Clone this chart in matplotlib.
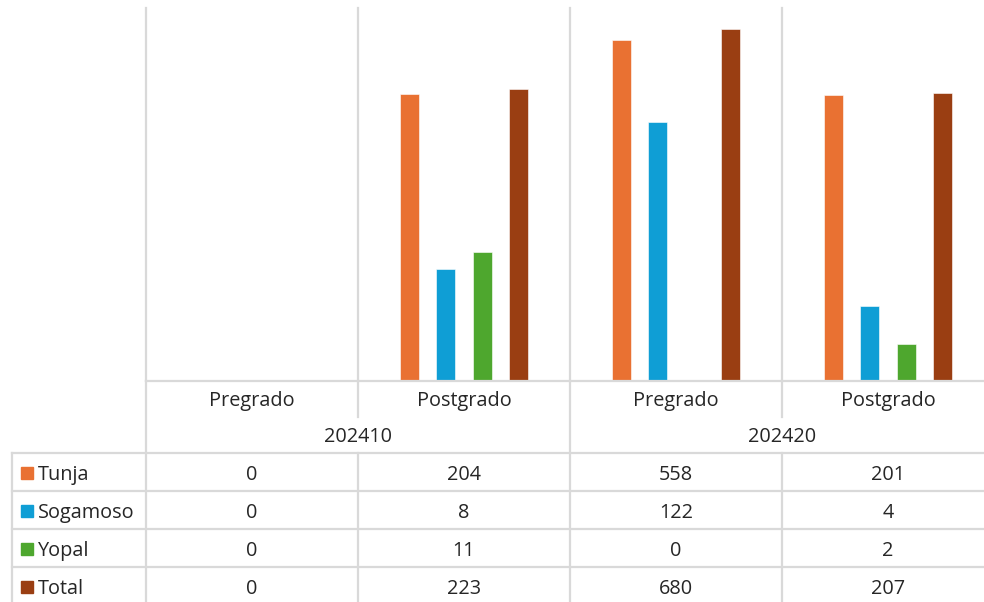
import numpy as np
import matplotlib
matplotlib.use("Agg")
import matplotlib.pyplot as plt
from matplotlib.lines import Line2D
from matplotlib.patches import Rectangle

# ---- data ----
categories = ["Pregrado", "Postgrado", "Pregrado", "Postgrado"]
periods = ["202410", "202420"]
series_names = ["Tunja", "Sogamoso", "Yopal", "Total"]
tunja = [0, 204, 558, 201]
sogamoso = [0, 8, 122, 4]
yopal = [0, 11, 0, 2]
total = [0, 223, 680, 207]
colors = ["#E97132", "#0F9ED5", "#4EA72E", "#9A3E12"]

W, H = 984, 602
fig = plt.figure(figsize=(W / 100, H / 100), dpi=100)
plt.rcParams['font.family'] = ['Open Sans', 'DejaVu Sans']
TXT = "#262626"
GRID = "#D9D9D9"
LW = 1.6
FS = 14.3

def fx(x):
    return x / W

def fy(y):
    return 1 - y / H

def hline(y, x0, x1):
    fig.add_artist(Line2D([fx(x0), fx(x1)], [fy(y), fy(y)], transform=fig.transFigure,
                          color=GRID, lw=LW, clip_on=False))

def vline(x, y0, y1):
    fig.add_artist(Line2D([fx(x), fx(x)], [fy(y0), fy(y1)], transform=fig.transFigure,
                          color=GRID, lw=LW, clip_on=False))

# plot area
left_px, right_px, top_px, bot_px = 146, 994, 8, 381
ax = fig.add_axes([fx(left_px), fy(bot_px), fx(right_px - left_px), (bot_px - top_px) / H])
ax.set_yscale('log')
ax.set_ylim(1, 1000)
ax.set_xlim(-0.5, len(categories) - 0.5)

series = [tunja, sogamoso, yopal, total]
n = len(series)
pitch = 0.172
width = 0.09
x = np.arange(len(categories))
for i, (vals, c) in enumerate(zip(series, colors)):
    v = np.array(vals, dtype=float)
    v = np.where(v > 0, v, np.nan)
    ax.bar(x + (i - (n - 1) / 2) * pitch, v, width=width, color=c, zorder=3,
           edgecolor='white', linewidth=0.4)

for s in ax.spines.values():
    s.set_visible(False)
ax.set_xticks([])
ax.set_yticks([])
ax.minorticks_off()
ax.yaxis.set_minor_locator(matplotlib.ticker.NullLocator())
for k in range(len(categories) + 1):
    ax.axvline(k - 0.5, color=GRID, lw=LW, zorder=1, clip_on=False)
ax.patch.set_alpha(0)

# ---- table / axis area ----
cat_w = (right_px - left_px) / len(categories)
bounds = [left_px + k * cat_w for k in range(len(categories) + 1)]
hline(bot_px, left_px, right_px)
row_top = 453
row_h = 38
rows_y = [row_top + r * row_h for r in range(len(series) + 1)]
for y in rows_y:
    hline(y, 12, right_px)
vline(12, row_top, 610)
# category boundaries
for k, b in enumerate(bounds):
    if k % 2 == 0:
        vline(b, bot_px, 610)
    else:
        vline(b, bot_px, 417)
        vline(b, row_top, 610)

# category labels
for k, cat in enumerate(categories):
    cx = (bounds[k] + bounds[k + 1]) / 2
    fig.text(fx(cx), fy(406), cat, ha='center', va='baseline', fontsize=FS, color=TXT)
for p, per in enumerate(periods):
    cx = (bounds[2 * p] + bounds[2 * p + 2]) / 2
    fig.text(fx(cx), fy(442), per, ha='center', va='baseline', fontsize=FS, color=TXT)

# rows
for r, (name, vals, c) in enumerate(zip(series_names, series, colors)):
    base = row_top + r * row_h + 27
    fig.add_artist(Rectangle((fx(21), fy(base - 1.5)), fx(11.5), 11.5 / H, transform=fig.transFigure,
                             color=c, clip_on=False))
    fig.text(fx(38), fy(base), name, ha='left', va='baseline', fontsize=FS, color=TXT)
    for k, v in enumerate(vals):
        cx = (bounds[k] + bounds[k + 1]) / 2
        fig.text(fx(cx), fy(base), str(v), ha='center', va='baseline', fontsize=FS, color=TXT)

fig.savefig("out.png", dpi=100, facecolor='white')
